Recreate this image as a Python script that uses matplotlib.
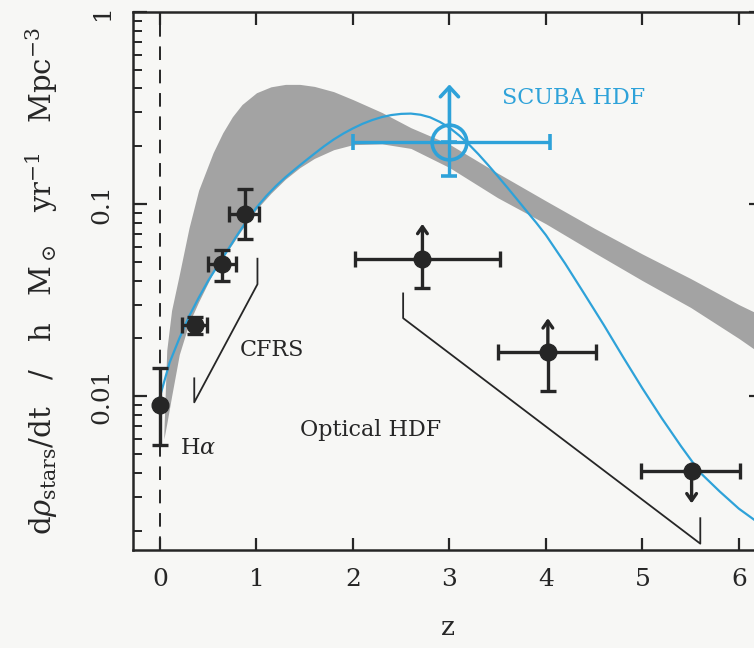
import matplotlib
matplotlib.use('Agg')
import matplotlib.pyplot as plt
from matplotlib.ticker import LogLocator, NullFormatter

plt.rcParams['font.family'] = ['DejaVu Serif']
plt.rcParams['mathtext.fontset'] = 'dejavuserif'

# Data
# H-alpha point
ha_z = [0.0]
ha_sfr = [0.009]
ha_lo = [0.0056]
ha_hi = [0.0141]

# CFRS points
cfrs_z = [0.36, 0.64, 0.88]
cfrs_zlo = [0.23, 0.50, 0.71]
cfrs_zhi = [0.49, 0.79, 1.03]
cfrs_sfr = [0.0234, 0.0487, 0.089]
cfrs_lo = [0.021, 0.040, 0.066]
cfrs_hi = [0.026, 0.058, 0.12]

# Optical HDF points (arrow = limit)
hdf_z = [2.72, 4.02, 5.51]
hdf_zlo = [2.02, 3.50, 4.99]
hdf_zhi = [3.52, 4.52, 6.01]
hdf_sfr = [0.052, 0.017, 0.0041]
hdf_lo = [0.0365, 0.0107, 0.0041]
hdf_arrow = [0.079, 0.0255, 0.00277]

# SCUBA HDF point
scuba_z = [3.0]
scuba_zlo = [2.0]
scuba_zhi = [4.04]
scuba_sfr = [0.21]
scuba_lo = [0.14]
scuba_arrow = [0.42]

# shaded model band
band_z = [0.04, 0.07, 0.12, 0.2, 0.3, 0.4, 0.55, 0.65, 0.75, 0.85, 1.0, 1.15, 1.3, 1.45,
          1.6, 1.8, 2.0, 2.3, 2.6, 3.0, 3.5, 4.0, 4.5, 5.0, 5.5, 6.0, 6.4]
band_upper = [0.0065, 0.0174, 0.028, 0.043, 0.075, 0.118, 0.185, 0.235, 0.285, 0.33, 0.38,
              0.408, 0.42, 0.42, 0.41, 0.385, 0.35, 0.30, 0.25, 0.205, 0.145, 0.104, 0.075,
              0.055, 0.041, 0.030, 0.024]
band_lower = [0.0060, 0.0072, 0.010, 0.0165, 0.024, 0.031, 0.044, 0.053, 0.062, 0.074, 0.094,
              0.114, 0.135, 0.155, 0.173, 0.192, 0.204, 0.206, 0.195, 0.155, 0.108, 0.079,
              0.056, 0.040, 0.029, 0.020, 0.0145]

# blue model curve
curve_z = [0.0, 0.1, 0.2, 0.3, 0.4, 0.5, 0.6, 0.7, 0.8, 0.9, 1.0, 1.1, 1.2, 1.3, 1.4, 1.5,
           1.6, 1.7, 1.8, 1.9, 2.0, 2.1, 2.2, 2.3, 2.4, 2.5, 2.6, 2.7, 2.8, 2.9, 3.0, 3.1,
           3.2, 3.3, 3.4, 3.5, 3.6, 3.7, 3.8, 3.9, 4.0, 4.2, 4.4, 4.6, 4.8, 5.0, 5.2, 5.4,
           5.6, 5.8, 6.0, 6.2, 6.3]
curve_sfr = [0.0100, 0.0150, 0.0200, 0.0260, 0.0325, 0.0400, 0.0480, 0.0575, 0.0690, 0.0820,
             0.0960, 0.110, 0.124, 0.138, 0.152, 0.167, 0.183, 0.200, 0.217, 0.233, 0.248,
             0.262, 0.274, 0.284, 0.291, 0.295, 0.296, 0.292, 0.283, 0.268, 0.250, 0.228,
             0.205, 0.182, 0.160, 0.140, 0.122, 0.106, 0.092, 0.080, 0.069, 0.049, 0.034,
             0.0235, 0.0160, 0.0110, 0.0077, 0.0055, 0.0040, 0.0032, 0.0026, 0.0022, 0.0020]

# bracket lines marking survey ranges
cfrs_bracket_z = [0.355, 0.355, 1.01, 1.01]
cfrs_bracket_y = [0.0124, 0.0093, 0.0383, 0.052]
hdf_bracket_z = [2.52, 2.52, 5.60, 5.60]
hdf_bracket_y = [0.0343, 0.0255, 0.00171, 0.00232]

dark = '#262626'
blue = '#2ea2d9'
bg = '#f7f7f5'

fig = plt.figure(figsize=(7.54, 6.48), dpi=100, facecolor=bg)
ax = fig.add_axes([133/754, 1 - 550/648, 630/754, 538/648], facecolor=bg)
ax.set_yscale('log')
ax.set_xlim(-0.28, 6.25)
ax.set_ylim(10**-2.8, 1)

# shaded band and model curve
ax.fill_between(band_z, band_lower, band_upper, color='#a3a3a3', lw=0, zorder=1)
ax.plot(curve_z, curve_sfr, color=blue, lw=1.6, zorder=3)

# z = 0 dashed line
ax.axvline(0, color=dark, lw=1.4, dashes=(7, 5), zorder=2)

# brackets
ax.plot(cfrs_bracket_z, cfrs_bracket_y, color=dark, lw=1.3, zorder=2)
ax.plot(hdf_bracket_z, hdf_bracket_y, color=dark, lw=1.3, zorder=2)

eb = dict(fmt='o', color=dark, ms=12, elinewidth=2.4, capsize=5.5, capthick=2.4, zorder=5)

# H-alpha
ax.errorbar(ha_z, ha_sfr,
            yerr=[[s - l for s, l in zip(ha_sfr, ha_lo)], [h - s for s, h in zip(ha_sfr, ha_hi)]],
            **eb)

# CFRS
ax.errorbar(cfrs_z, cfrs_sfr,
            xerr=[[z - l for z, l in zip(cfrs_z, cfrs_zlo)], [h - z for z, h in zip(cfrs_z, cfrs_zhi)]],
            yerr=[[s - l for s, l in zip(cfrs_sfr, cfrs_lo)], [h - s for s, h in zip(cfrs_sfr, cfrs_hi)]],
            **eb)

# Optical HDF
ax.errorbar(hdf_z, hdf_sfr,
            xerr=[[z - l for z, l in zip(hdf_z, hdf_zlo)], [h - z for z, h in zip(hdf_z, hdf_zhi)]],
            yerr=[[s - l for s, l in zip(hdf_sfr, hdf_lo)], [0] * len(hdf_sfr)],
            **eb)
for z, s, a in zip(hdf_z, hdf_sfr, hdf_arrow):
    ax.annotate('', xy=(z, a), xytext=(z, s),
                arrowprops=dict(arrowstyle='->,head_length=0.5,head_width=0.35',
                                color=dark, lw=2.4, shrinkA=0, shrinkB=0), zorder=5)

# SCUBA HDF
ax.errorbar(scuba_z, scuba_sfr,
            xerr=[[z - l for z, l in zip(scuba_z, scuba_zlo)], [h - z for z, h in zip(scuba_z, scuba_zhi)]],
            yerr=[[s - l for s, l in zip(scuba_sfr, scuba_lo)], [0]],
            fmt='o', mfc='none', mec=blue, mew=2.6, ms=25, color=blue,
            elinewidth=2.4, capsize=5.5, capthick=2.4, zorder=6)
for z, s, a in zip(scuba_z, scuba_sfr, scuba_arrow):
    ax.annotate('', xy=(z, a), xytext=(z, s),
                arrowprops=dict(arrowstyle='->,head_length=0.7,head_width=0.65',
                                color=blue, lw=2.6, shrinkA=0, shrinkB=0), zorder=6)

# labels in plot
ax.text(3.54, 0.356, 'SCUBA HDF', color=blue, fontsize=16, va='center', ha='left')
ax.text(0.83, 0.0174, 'CFRS', color=dark, fontsize=16, va='center', ha='left')
ax.text(0.21, 0.0054, r'H$\alpha$', color=dark, fontsize=16, va='center', ha='left')
ax.text(1.45, 0.00665, 'Optical HDF', color=dark, fontsize=16, va='center', ha='left')

# axes styling
ax.set_xticks([0, 1, 2, 3, 4, 5, 6])
ax.set_yticks([0.01, 0.1, 1])
ax.set_yticklabels(['0.01', '0.1', '1'], rotation=90, va='center')
ax.yaxis.set_minor_locator(LogLocator(base=10, subs=range(2, 10)))
ax.yaxis.set_minor_formatter(NullFormatter())
ax.tick_params(axis='both', which='both', direction='in', top=True, right=True,
               labelsize=18, colors=dark)
ax.tick_params(axis='x', which='major', length=9, width=1.6, pad=13)
ax.tick_params(axis='y', which='major', length=10, width=1.6, pad=14)
ax.tick_params(axis='y', which='minor', length=6.5, width=1.4)
ax.tick_params(axis='x', which='minor', length=0)
for sp in ax.spines.values():
    sp.set_linewidth(1.8)
    sp.set_color(dark)

ax.set_xlabel('z', fontsize=19, labelpad=17, color=dark)
ax.set_ylabel(r'd$\rho_{\rm stars}$/dt   /   h   M$_\odot$   yr$^{-1}$   Mpc$^{-3}$',
              fontsize=21, labelpad=22, color=dark)

plt.savefig('out.png', dpi=100, facecolor=bg)
